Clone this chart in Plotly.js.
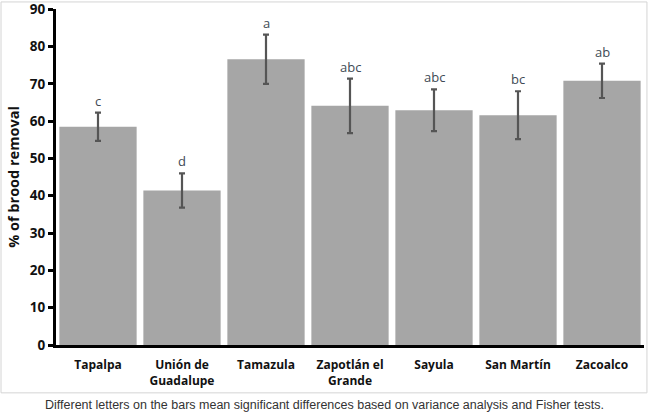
<!DOCTYPE html>
<html>
<head>
<meta charset="utf-8">
<script src="https://cdn.plot.ly/plotly-3.0.1.min.js"></script>
<style>html,body{margin:0;padding:0;background:#fff;}#chart{width:649px;height:413px;}</style>
</head>
<body>
<div id="chart"></div>
<script>
const categories = ["Tapalpa", "Unión de<br>Guadalupe", "Tamazula", "Zapotlán el<br>Grande", "Sayula", "San Martín", "Zacoalco"];
const values = [58.5, 41.4, 76.6, 64.1, 62.9, 61.6, 70.8];
const errors = [3.8, 4.6, 6.6, 7.3, 5.6, 6.4, 4.6];
const letters = ["c", "d", "a", "abc", "abc", "bc", "ab"];
const yTicks = [0, 10, 20, 30, 40, 50, 60, 70, 80, 90];

const trace = {
  type: "bar",
  x: categories,
  y: values,
  marker: {color: "#a6a6a6"},
  error_y: {type: "data", array: errors, visible: true, color: "#555555", thickness: 2.2, width: 3},
  hoverinfo: "none"
};

const annotations = categories.map((c, i) => ({
  x: c, y: values[i] + errors[i], xref: "x", yref: "y",
  text: letters[i], showarrow: false, yanchor: "bottom", yshift: 1,
  font: {family: "Open Sans, sans-serif", size: 13, color: "#404a55"}
}));
annotations.push({
  xref: "paper", yref: "paper", x: 0.457, y: -0.178, xanchor: "center", yanchor: "middle",
  text: "Different letters on the bars mean significant differences based on variance analysis and Fisher tests.",
  showarrow: false, font: {family: "Liberation Sans, Arial, sans-serif", size: 12.5, color: "#333333"}
});

const layout = {
  width: 649, height: 413,
  margin: {l: 56, r: 5, t: 9, b: 68},
  paper_bgcolor: "#ffffff", plot_bgcolor: "#ffffff",
  bargap: 0.08,
  showlegend: false,
  xaxis: {
    showline: true, linecolor: "#000", linewidth: 3,
    ticks: "outside", ticklen: 7, tickcolor: "rgba(0,0,0,0)",
    tickfont: {family: "Open Sans, sans-serif", size: 12, color: "#111", weight: "bold"},
    fixedrange: true
  },
  yaxis: {
    range: [0, 90.05], tickvals: yTicks, showgrid: false, zeroline: false,
    showline: true, linecolor: "#000", linewidth: 3,
    ticks: "outside", ticklen: 5, tickwidth: 3, tickcolor: "#000",
    ticklabeloverflow: "allow",
    tickfont: {family: "Open Sans, sans-serif", size: 13.5, color: "#111", weight: "bold"},
    title: {text: "% of brood removal", font: {family: "Open Sans, sans-serif", size: 14.5, color: "#111", weight: "bold"}, standoff: 7},
    fixedrange: true
  },
  annotations: annotations,
  shapes: [{
    type: "rect", xref: "paper", yref: "paper",
    x0: -0.0935, x1: 1.005, y0: -0.1424, y1: 1.021,
    line: {color: "#d4d4d4", width: 1}, layer: "below"
  }]
};

Plotly.newPlot("chart", [trace], layout, {displayModeBar: false, staticPlot: true});
</script>
</body>
</html>
